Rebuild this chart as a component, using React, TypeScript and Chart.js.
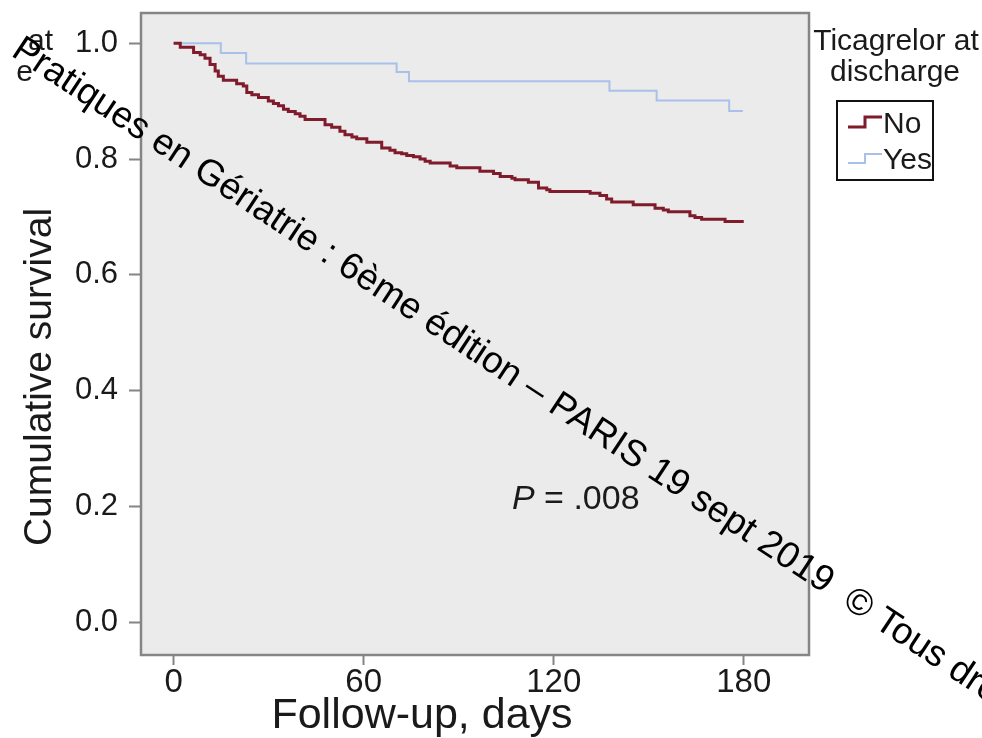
import React, { useEffect, useRef } from "react";
import { Chart, registerables } from "chart.js";

Chart.register(...registerables);

// ---- data ----
const noDays = [0, 2.1, 6.3, 8.4, 9.9, 11.5, 13.1, 14.1, 15.7, 19.9, 22.0, 23.1, 24.7, 26.8, 29.9, 31.5, 33.1, 34.7, 36.2, 38.4, 39.9, 41.5, 47.8, 49.9, 52.5, 54.1, 56.3, 57.8, 61.0, 65.7, 68.3, 69.9, 72.0, 73.6, 75.7, 77.8, 79.4, 81.0, 87.3, 89.4, 96.7, 101.0, 103.1, 106.8, 107.8, 112.0, 115.2, 117.8, 118.8, 131.5, 134.6, 136.7, 138.3, 145.1, 152.0, 154.6, 156.2, 163.0, 164.6, 166.7, 174.1, 180];
const noSurv = [1.0, 0.993, 0.984, 0.980, 0.974, 0.963, 0.952, 0.943, 0.936, 0.930, 0.926, 0.915, 0.911, 0.906, 0.900, 0.896, 0.892, 0.886, 0.882, 0.878, 0.874, 0.868, 0.859, 0.855, 0.848, 0.842, 0.838, 0.835, 0.829, 0.819, 0.815, 0.811, 0.809, 0.806, 0.804, 0.800, 0.796, 0.793, 0.788, 0.785, 0.779, 0.775, 0.770, 0.767, 0.764, 0.760, 0.750, 0.747, 0.744, 0.741, 0.737, 0.731, 0.726, 0.721, 0.715, 0.712, 0.709, 0.702, 0.699, 0.696, 0.692, 0.692];

const yesDays = [0, 14.9, 22.9, 70.4, 74.3, 137.6, 152.5, 175.4, 179.7];
const yesSurv = [1.0, 0.983, 0.965, 0.950, 0.934, 0.918, 0.901, 0.883, 0.883];

const xTickValues = [0, 60, 120, 180];
const yTickValues = [0, 0.2, 0.4, 0.6, 0.8, 1.0];

const seriesLabels = ["No", "Yes"];
const legendTitle = ["Ticagrelor at", "discharge"];
const xTitle = "Follow-up, days";
const yTitle = "Cumulative survival";
const watermark = "Pratiques en Gériatrie : 6ème édition – PARIS 19 sept 2019  © Tous droits réservés";

const FONT = '"Liberation Sans", Arial, Helvetica, sans-serif';
const TEXT = "#1a1a1a";
const RED = "#801b2c";
const BLUE = "#a9c0ea";
const GRID = "#858585";

const decorPlugin = {
  id: "decor",
  beforeDatasetsDraw(chart: any) {
    const { ctx, chartArea: a } = chart;
    ctx.save();
    ctx.fillStyle = "#ebebeb";
    ctx.fillRect(a.left, a.top, a.right - a.left, a.bottom - a.top);
    ctx.strokeStyle = GRID;
    ctx.lineWidth = 2.5;
    ctx.strokeRect(a.left, a.top, a.right - a.left, a.bottom - a.top);
    ctx.restore();
  },
  afterDraw(chart: any) {
    const { ctx } = chart;
    ctx.save();
    ctx.fillStyle = TEXT;
    // axis titles
    ctx.textAlign = "center";
    ctx.textBaseline = "middle";
    ctx.font = `43px ${FONT}`;
    ctx.fillText(xTitle, 422, 716);
    ctx.save();
    ctx.translate(40, 377);
    ctx.rotate(-Math.PI / 2);
    ctx.font = `39px ${FONT}`;
    ctx.fillText(yTitle, 0, 0);
    ctx.restore();

    // P value
    ctx.font = `italic 34px ${FONT}`;
    ctx.textAlign = "left";
    ctx.fillText("P", 512, 500);
    const pw = ctx.measureText("P").width;
    ctx.font = `34px ${FONT}`;
    ctx.fillText(" = .008", 512 + pw, 500);

    // legend title
    ctx.font = `30px ${FONT}`;
    ctx.textAlign = "center";
    ctx.fillText(legendTitle[0], 896, 42);
    ctx.fillText(legendTitle[1], 895, 73);

    // remnant texts top-left
    ctx.textAlign = "right";
    ctx.fillText("at", 53, 42);
    ctx.fillText("e", 33, 73);

    // legend box
    ctx.strokeStyle = "#111";
    ctx.lineWidth = 2;
    ctx.strokeRect(837, 101, 96, 79);
    const items = [
      { c: RED, w: 3, y1: 127, y0: 117, ty: 125 },
      { c: BLUE, w: 2, y1: 163, y0: 154, ty: 161 },
    ];
    items.forEach((it, i) => {
      ctx.strokeStyle = it.c;
      ctx.lineWidth = it.w;
      ctx.beginPath();
      ctx.moveTo(848, it.y1);
      ctx.lineTo(865, it.y1);
      ctx.lineTo(865, it.y0);
      ctx.lineTo(882, it.y0);
      ctx.stroke();
      ctx.fillStyle = TEXT;
      ctx.textAlign = "left";
      ctx.font = `30px ${FONT}`;
      ctx.fillText(seriesLabels[i], 883, it.ty);
    });

    // watermark
    ctx.save();
    ctx.translate(10, 55);
    ctx.rotate((33.5 * Math.PI) / 180);
    ctx.font = `37px ${FONT}`;
    ctx.fillStyle = "#000";
    ctx.textAlign = "left";
    ctx.textBaseline = "alphabetic";
    ctx.fillText(watermark, 0, 0);
    ctx.restore();

    ctx.restore();
  },
};

export default function App() {
  const ref = useRef<HTMLCanvasElement | null>(null);
  useEffect(() => {
    document.body.style.margin = "0";
    const canvas = ref.current;
    if (!canvas) return;
    const chart = new Chart(canvas, {
      type: "line",
      data: {
        datasets: [
          {
            label: seriesLabels[0],
            data: noDays.map((d, i) => ({ x: d, y: noSurv[i] })),
            borderColor: RED,
            borderWidth: 3,
            stepped: "before",
            pointRadius: 0,
            fill: false,
          },
          {
            label: seriesLabels[1],
            data: yesDays.map((d, i) => ({ x: d, y: yesSurv[i] })),
            borderColor: BLUE,
            borderWidth: 2,
            stepped: "before",
            pointRadius: 0,
            fill: false,
          },
        ],
      },
      options: {
        animation: false,
        responsive: true,
        maintainAspectRatio: false,
        layout: { padding: { left: 0, top: 13, right: 173, bottom: 0 } },
        plugins: { legend: { display: false }, tooltip: { enabled: false } },
        scales: {
          x: {
            type: "linear",
            min: -10.3,
            max: 200.6,
            afterBuildTicks: (s: any) => {
              s.ticks = xTickValues.map((v) => ({ value: v }));
            },
            afterFit: (s: any) => {
              s.height = 83;
              s.paddingLeft = 0;
              s.paddingRight = 0;
            },
            grid: {
              drawOnChartArea: false,
              drawTicks: true,
              tickLength: 10,
              tickColor: GRID,
              tickWidth: 2,
            },
            border: { display: false },
            ticks: {
              color: TEXT,
              font: { family: FONT, size: 33 },
              padding: -2,
              maxRotation: 0,
              callback: (v: any) => String(v),
            },
          },
          y: {
            type: "linear",
            min: -0.056,
            max: 1.052,
            afterBuildTicks: (s: any) => {
              s.ticks = yTickValues.map((v) => ({ value: v }));
            },
            afterFit: (s: any) => {
              s.width = 141;
              s.paddingTop = 0;
              s.paddingBottom = 0;
            },
            grid: {
              drawOnChartArea: false,
              drawTicks: true,
              tickLength: 12,
              tickColor: GRID,
              tickWidth: 2,
            },
            border: { display: false },
            ticks: {
              color: TEXT,
              font: { family: FONT, size: 31 },
              padding: 11,
              callback: (v: any) => Number(v).toFixed(1),
            },
          },
        },
      },
      plugins: [decorPlugin],
    });
    return () => chart.destroy();
  }, []);
  return (
    <div style={{ position: "fixed", left: 0, top: 0, width: 982, height: 738, background: "#fff" }}>
      <canvas ref={ref} />
    </div>
  );
}
